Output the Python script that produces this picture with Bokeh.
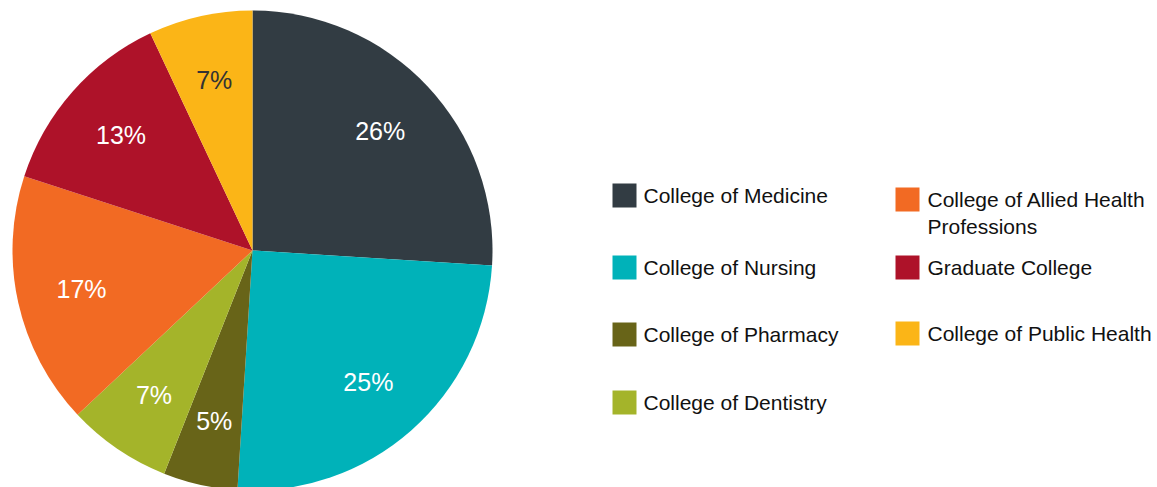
import math
from bokeh.plotting import figure
from bokeh.models import Range1d, ColumnDataSource
from bokeh.core.properties import value
from bokeh.embed import file_html
from bokeh.resources import INLINE

# ---- data ----
colleges = ["College of Medicine", "College of Nursing", "College of Pharmacy",
            "College of Dentistry", "College of Allied Health\nProfessions",
            "Graduate College", "College of Public Health"]
shares = [26, 25, 5, 7, 17, 13, 7]
colors = ["#323c43", "#00b2b9", "#686418", "#a4b42a", "#f26a23", "#ae1229", "#fbb517"]
label_colors = ["#ffffff", "#ffffff", "#ffffff", "#ffffff", "#ffffff", "#ffffff", "#333333"]

W, H = 1157, 487
def Y(page_y):
    return H - page_y
def X(page_x):
    return page_x

p = figure(width=W, height=H, output_backend="svg", toolbar_location=None,
           x_range=Range1d(0, W), y_range=Range1d(0, H), min_border=0)
p.axis.visible = False
p.grid.visible = False
p.outline_line_color = None
p.background_fill_color = "white"
p.border_fill_color = "white"

cx, cy, R = X(252), Y(250), 240
total = sum(shares)
starts, ends, lx, ly, labels = [], [], [], [], []
cum = 0.0
for s in shares:
    a0 = math.pi / 2 - 2 * math.pi * cum / total
    cum += s
    a1 = math.pi / 2 - 2 * math.pi * cum / total
    starts.append(a1)
    ends.append(a0)
    mid = (a0 + a1) / 2
    lx.append(cx + 0.73 * R * math.cos(mid))
    ly.append(cy + 0.73 * R * math.sin(mid))
    labels.append(f"{s}%")

src = ColumnDataSource(dict(start=starts, end=ends, color=colors, lx=lx, ly=ly,
                            label=labels, lc=label_colors))
p.wedge(x=cx, y=cy, radius=R, start_angle="start", end_angle="end",
        direction="anticlock", fill_color="color", line_color=None, source=src)
p.text(x="lx", y="ly", text="label", text_color="lc", source=src,
       text_font=value("Liberation Sans"), text_font_size="25px",
       text_align="center", text_baseline="middle")

# ---- legend ----
col_sq_x = [X(624), X(624), X(624), X(624), X(907), X(907), X(907)]
row_y = [195, 267, 334, 402, 199, 267, 333]
text_x = [X(643), X(643), X(643), X(643), X(927), X(927), X(927)]
leg = ColumnDataSource(dict(sx=col_sq_x, sy=[Y(v) for v in row_y], color=colors,
                            tx=text_x, ty=[Y(v - 12) for v in row_y], name=colleges))
p.rect(x="sx", y="sy", width=24, height=24, fill_color="color", line_color=None, source=leg)
p.text(x="tx", y="ty", text="name", source=leg, text_color="#111111",
       text_font=value("Liberation Sans"), text_font_size="21px",
       text_align="left", text_baseline="top", text_line_height=1.2)

open("out.html", "w").write(file_html(p, INLINE))
